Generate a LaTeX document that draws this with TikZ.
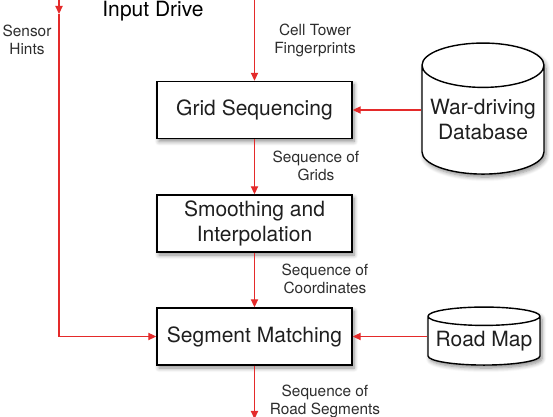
\documentclass[tikz,border=0pt]{standalone}
\usepackage{fontspec}
\setmainfont{TeX Gyre Heros}
\usetikzlibrary{shapes.geometric,shadows.blur,arrows.meta}
\definecolor{flowred}{RGB}{228,42,42}
\definecolor{labelgray}{RGB}{45,45,45}
\tikzset{
  stage/.style={draw, line width=0.7pt, fill=white, minimum width=97.5pt, minimum height=28.5pt,
    align=center, inner sep=0pt, font=\fontsize{10.5}{12.5}\selectfont, text=black!88,
    blur shadow={shadow xshift=1pt, shadow yshift=-1.5pt, shadow blur steps=6, shadow opacity=45}},
  store/.style={stage, cylinder, shape border rotate=90, minimum width=0pt, minimum height=0pt},
  flowlabel/.style={align=center, inner sep=0pt, text=labelgray, font=\fontsize{7.7}{9}\selectfont},
  flow/.style={draw=flowred, line width=0.6pt, -{Triangle[length=4pt,width=3.6pt]}}
}
\begin{document}
\begin{tikzpicture}[x=0.5pt, y=-0.5pt]
\useasboundingbox (0,0) rectangle (553,417);

\node[] (input) at (153,11) {\fontsize{10.5}{12.5}\selectfont Input Drive};
\node[flowlabel] (sensor) at (27,40) {Sensor\\Hints};
\node[flowlabel] (cell) at (315,40) {Cell Tower\\Fingerprints};

\node[stage] (grid) at (254.5,110) {Grid Sequencing};
\node[stage] (smooth) at (254.5,223.5) {Smoothing and\\Interpolation};
\node[stage] (seg) at (254.5,336.5) {Segment Matching};

\node[store, aspect=0.42, minimum width=61pt, minimum height=65.5pt] (wardb) at (483,120) {War-driving\\Database};
\node[store, aspect=0.19, minimum width=56pt, minimum height=29pt] (road) at (484,341) {Road Map};

\node[flowlabel] (grids) at (316,166) {Sequence of\\Grids};
\node[flowlabel] (coords) at (325,279) {Sequence of\\Coordinates};
\node[flowlabel] (roadsegs) at (325,401) {Sequence of\\Road Segments};

\coordinate (sensortop) at (59,-4);
\coordinate (sensortip) at (59,14);
\coordinate (celltop) at (254.5,-4);
\coordinate (outend) at (254.5,419);

\draw[flow] (sensortop) -- (sensortip);
\draw[flow] (sensortip) |- (seg.west);
\draw[flow] (celltop) -- (grid.north);
\draw[flow] (grid) -- (smooth);
\draw[flow] (smooth) -- (seg);
\draw[flow] (seg) -- (outend);
\draw[flow] (wardb.west |- grid.east) -- (grid.east);
\draw[flow] (road.west |- seg.east) -- (seg.east);

\end{tikzpicture}
\end{document}
